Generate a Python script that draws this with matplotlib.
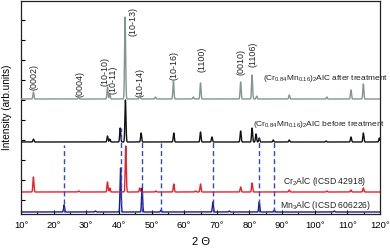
import numpy as np
import matplotlib
matplotlib.use("Agg")
import matplotlib.pyplot as plt
from matplotlib.ticker import MultipleLocator, FixedLocator

plt.rcParams['font.family'] = ['Liberation Sans', 'DejaVu Sans']
plt.rcParams['mathtext.fontset'] = 'custom'
plt.rcParams['mathtext.rm'] = 'Liberation Sans'
plt.rcParams['mathtext.it'] = 'Liberation Sans'
plt.rcParams['mathtext.bf'] = 'Liberation Sans'

# ---- data (2theta in degrees, intensities in arbitrary units) ----
after_base = 115
after_pos = [13.8, 27.6, 36.5, 37.2, 41.9, 46.4, 51.2, 56.7, 62.8, 65.0, 77.3, 80.8, 82.2, 92.2, 103.7, 111.1, 114.9]
after_h   = [7,    2,    12,   5,    82,   4,    2,    18,   2,    16,   17,   24,   3,    4,    2,     9,     15]

before_base = 72
before_pos = [13.8, 36.5, 37.2, 40.4, 42.0, 46.8, 56.8, 65.0, 68.5, 77.3, 80.8, 82.0, 83.0, 87.3, 92.2, 103.5, 111.1, 114.9, 119.8]
before_h   = [3,    6,    3,    14,   42,   9,    9,    10,   5,    11,   14,   8,    4,    2,    2,    1,     5,     9,     4]

cr_base = 22
cr_pos = [13.8, 27.7, 36.5, 37.2, 42.1, 46.4, 51.3, 56.8, 63.5, 65.0, 77.3, 80.8, 92.2, 103.7, 111.1, 114.9]
cr_h   = [15,   1,    10,   4,    46,   4,    1,    8,    1,    8,    5,    9,    2,    1,     2,     4]

mn_base = 2
mn_pos = [23.2, 32.8, 40.5, 47.1, 52.9, 68.8, 73.8, 83.0, 87.6, 106.0]
mn_h   = [7,    1,    44,   24,   2,    10,   1,    10,   2,    1]

ref_pos = [23.2, 40.5, 47.2, 52.8, 68.8, 83.0, 87.5]
ref_top = [69,   86,   74,   71,   73,   76,   74]

hkl_labels = ['(0002)', '(0004)', '(10-10)', '(10-11)', '(10-13)', '(10-14)', '(10-16)', '(1100)', '(0010)', '(1106)']
hkl_x      = [14.0, 28.1, 35.7, 38.2, 44.3, 46.5, 56.9, 65.5, 77.4, 81.1]
hkl_y      = [124,  117,  128,  120,  178,  117,  134,  142,  139,  147]

xticks = list(range(10, 121, 10))
xtick_labels = [f'{v}°' for v in xticks]
yticks = [14, 34, 54, 74, 94, 114, 134, 154, 174, 194]

# ---- figure ----
fig = plt.figure(figsize=(3.9, 2.5), dpi=100)
ax = fig.add_axes([21/390, 1 - 214/250, 359/390, 213/250])

x = np.arange(10, 120.001, 0.02)
def profile(base, pos, h, s=0.16):
    y = np.full_like(x, float(base))
    for c, a in zip(pos, h):
        y += a * np.exp(-0.5 * ((x - c) / s) ** 2)
    return y

ax.plot(x, profile(mn_base, mn_pos, mn_h), color='#1c1c8e', lw=1.0, zorder=2)
ax.plot(x, profile(cr_base, cr_pos, cr_h), color='#e8202c', lw=1.0, zorder=2)
ax.plot(x, profile(before_base, before_pos, before_h), color='#111111', lw=1.0, zorder=3)
for p, t in zip(ref_pos, ref_top):
    ax.plot([p, p], [mn_base, t], color='#3347d0', lw=1.0, dashes=(3.6, 2.2), zorder=4)
ax.plot(x, profile(after_base, after_pos, after_h), color='#82968f', lw=1.0, zorder=5)

for lab, lx, ly in zip(hkl_labels, hkl_x, hkl_y):
    ax.text(lx, ly, lab, rotation=90, ha='center', va='bottom', fontsize=6.4, color='#222222')

ax.text(84.1, 136, r'(Cr$_{0.84}$Mn$_{0.16}$)$_2$AlC after treatment', fontsize=6, va='center', ha='left', color='#222222')
ax.text(81.1, 90, r'(Cr$_{0.84}$Mn$_{0.16}$)$_2$AlC before treatment', fontsize=6, va='center', ha='left', color='#222222')
ax.text(90.3, 33, r'Cr$_2$AlC (ICSD 42918)', fontsize=6.2, va='center', ha='left', color='#222222')
ax.text(89.3, 8, r'Mn$_3$AlC (ICSD 606226)', fontsize=6.2, va='center', ha='left', color='#222222')

ax.set_xlim(10, 120)
ax.set_ylim(0, 213)
ax.xaxis.set_major_locator(FixedLocator(xticks))
ax.set_xticklabels(xtick_labels, fontsize=6.8)
ax.xaxis.set_minor_locator(MultipleLocator(5))
ax.yaxis.set_major_locator(FixedLocator(yticks))
ax.set_yticklabels([])
ax.tick_params(axis='x', which='major', direction='in', length=3, width=0.8, pad=5)
ax.tick_params(axis='x', which='minor', direction='in', length=1.6, width=0.8)
ax.tick_params(axis='y', which='major', direction='in', length=3, width=0.8)
for sp in ax.spines.values():
    sp.set_linewidth(0.9)
    sp.set_color('#222222')

ax.set_xlabel('2 Θ', fontsize=8, labelpad=5)
ax.set_ylabel('Intensity (arb.units)', fontsize=7.2, labelpad=3)

fig.savefig('out.png', dpi=100)
